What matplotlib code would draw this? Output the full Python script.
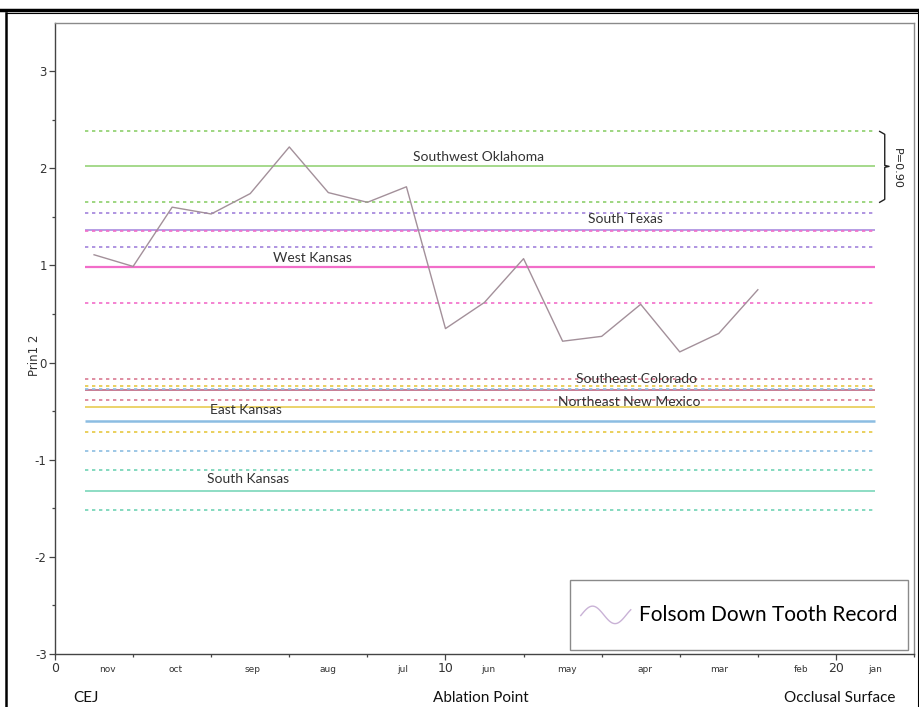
import numpy as np
import matplotlib
matplotlib.use("Agg")
import matplotlib.pyplot as plt
from matplotlib.lines import Line2D
from matplotlib.legend_handler import HandlerBase
from matplotlib.transforms import blended_transform_factory

# Folsom tooth record, Prin1 2 score along the tooth
positions = [1, 2, 3, 4, 5, 6, 7, 8, 9, 10, 11, 12, 13, 14, 15, 16, 17, 18]
prin_scores = [1.11, 0.99, 1.60, 1.53, 1.74, 2.22, 1.75, 1.65, 1.81,
               0.35, 0.62, 1.07, 0.22, 0.27, 0.60, 0.11, 0.30, 0.75]

# Modern regional means with P=0.90 limits
regions = ["Southwest Oklahoma", "South Texas", "West Kansas", "Southeast Colorado",
           "Northeast New Mexico", "East Kansas", "South Kansas"]
region_means = [2.02, 1.36, 0.98, -0.28, -0.46, -0.60, -1.32]
region_lower = [1.65, 1.19, 0.61, -0.39, -0.71, -0.91, -1.52]
region_upper = [2.38, 1.54, 1.35, -0.17, -0.24, -0.27, -1.11]

months = ["nov", "oct", "sep", "aug", "jul", "jun", "may", "apr", "mar", "feb", "jan"]
month_pos = [1.35, 3.1, 5.05, 7.0, 8.9, 11.1, 13.1, 15.1, 17.0, 19.1, 21.0]

# drawing styles for each region: colour, solid width, label x, label y
region_style = {
    "Southwest Oklahoma":   ("#8dd06c", 1.1, 10.85, 2.12),
    "South Texas":          ("#a283dc", 1.1, 14.6, 1.48),
    "West Kansas":          ("#f26dc9", 1.6, 6.6, 1.08),
    "Southeast Colorado":   ("#d97a92", 1.1, 14.9, -0.17),
    "Northeast New Mexico": ("#e6c842", 1.1, 14.7, -0.41),
    "East Kansas":          ("#8cbde2", 1.8, 4.9, -0.49),
    "South Kansas":         ("#6fd3b4", 1.1, 4.95, -1.20),
}


class SineHandler(HandlerBase):
    def create_artists(self, legend, orig_handle, xdescent, ydescent,
                       width, height, fontsize, trans):
        t = np.linspace(0, 1, 60)
        x = -xdescent + t * width
        amp = fontsize * 0.42
        y = -ydescent + height / 2 + amp * np.sin(2 * np.pi * (t - 0.2) / 0.9 + np.pi / 2 - 0.25)
        line = Line2D(x, y, color="#c9b2d6", lw=1.0, transform=trans)
        return [line]


fig = plt.figure(figsize=(9.2, 7.07), dpi=100)
ax = fig.add_axes([0.0598, 0.075, 0.9337, 0.893])

x0, x1 = 0.77, 21.0
for name, m, lo, hi in zip(regions, region_means, region_lower, region_upper):
    col, lw, lx, ly = region_style[name]
    solid_col = "#b85a78" if name == "Southeast Colorado" else col
    ax.hlines(m, x0, x1, color=solid_col, lw=lw, zorder=2)
    ax.hlines([lo, hi], x0, x1, color=col, lw=1.2, linestyles=(0, (2, 2.2)), zorder=2)
    ax.text(lx, ly, name, ha="center", va="center", fontsize=10,
            family="Lato", color="#333333", zorder=4)

rec, = ax.plot(positions, prin_scores, color="#a3909a", lw=1.0, zorder=3)

# bracket marking the P=0.90 band of the Southwest Oklahoma sample
bx = [21.12, 21.25, 21.25, 21.36, 21.25, 21.25, 21.12]
by = [region_upper[0], region_upper[0] - 0.03, region_means[0] + 0.01, region_means[0],
      region_means[0] - 0.01, region_lower[0] + 0.03, region_lower[0]]
ax.plot(bx, by, color="#222222", lw=1.0, clip_on=False)
ax.text(21.55, 2.0, "P=0.90", rotation=-90, ha="center", va="center",
        fontsize=8, family="DejaVu Sans", color="#222222")

ax.set_xlim(0, 22)
ax.set_ylim(-3, 3.5)
ax.set_xticks([0, 10, 20])
ax.set_xticks(np.arange(2, 23, 2), minor=True)
ax.set_xticklabels(["0", "10", "20"])
ax.set_yticks([-3, -2, -1, 0, 1, 2, 3])
ax.set_yticks(np.arange(-2.5, 3.5, 1), minor=True)
ax.set_yticklabels(["-3", "-2", "-1", "0", "1", "2", "3"])
ax.tick_params(axis="both", which="major", length=4, width=0.9, color="#444444",
               labelsize=8.5, labelcolor="#333333")
ax.tick_params(axis="both", which="minor", length=2.5, width=0.9, color="#444444")
ax.tick_params(axis="x", which="major", pad=2, labelsize=9)
ax.tick_params(axis="y", which="major", pad=2)
for side in ["left", "bottom"]:
    ax.spines[side].set_color("#444444")
    ax.spines[side].set_linewidth(1.0)
for side in ["top", "right"]:
    ax.spines[side].set_color("#8a8a8a")
    ax.spines[side].set_linewidth(1.0)

ax.set_ylabel("Prin1 2", fontsize=8.5, color="#333333")
ax.yaxis.set_label_coords(-0.0165, 0.473)

tr = blended_transform_factory(ax.transData, ax.transAxes)
for m, xp in zip(months, month_pos):
    ax.text(xp, -0.017, m, transform=tr, ha="center", va="top", fontsize=6.5,
            family="DejaVu Sans", color="#333333")

for label, xp in [("CEJ", 0.8), ("Ablation Point", 10.9), ("Occlusal Surface", 20.1)]:
    ax.text(xp, -0.058, label, transform=tr, ha="center", va="top", fontsize=11,
            family="Lato", color="#111111")

leg = ax.legend([rec], ["Folsom Down Tooth Record"], handler_map={rec: SineHandler()},
                loc="lower right", bbox_to_anchor=(0.993, 0.006), borderaxespad=0,
                fancybox=False, framealpha=1, edgecolor="#8a8a8a",
                prop={"family": "Lato", "size": 15}, handlelength=2.4,
                handleheight=3.3, borderpad=0.5, handletextpad=0.4)
leg.get_frame().set_linewidth(1.0)

# outer frame round the whole figure
fig.add_artist(Line2D([0, 1], [0.986, 0.986], color="black", lw=2.5))
fig.add_artist(Line2D([0.006, 1], [0.9815, 0.9815], color="black", lw=0.8))
fig.add_artist(Line2D([0.007, 0.007], [0, 0.9815], color="black", lw=1.8))
fig.add_artist(Line2D([0.9985, 0.9985], [0, 0.9815], color="black", lw=1.5))

fig.savefig("out.png", dpi=100)
